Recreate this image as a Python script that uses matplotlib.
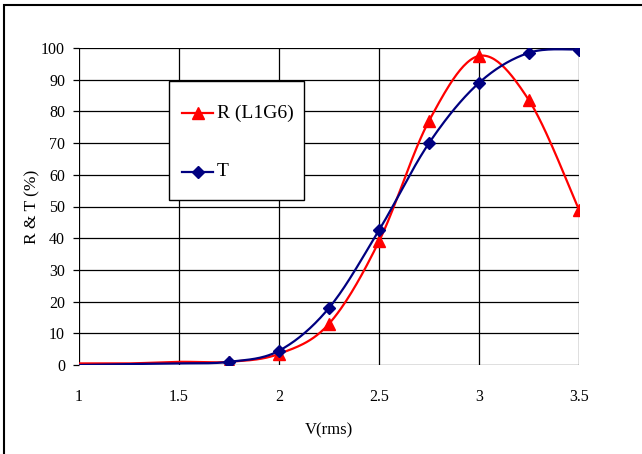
import numpy as np
import matplotlib
matplotlib.use('Agg')
import matplotlib.pyplot as plt
from matplotlib.patches import Rectangle

# data
volts = [1.0, 1.25, 1.5, 1.75, 2.0, 2.25, 2.5, 2.75, 3.0, 3.25, 3.5]
refl = [0.5, 0.5, 1.0, 1.0, 3.5, 13.0, 39.0, 77.0, 97.5, 83.5, 49.0]
trans = [0.0, 0.3, 0.5, 1.0, 4.5, 18.0, 42.5, 70.0, 89.0, 98.5, 99.5]
first_marker = 3  # markers only from 1.75 V on
labels = ['R (L1G6)', 'T']

plt.rcParams['font.family'] = ['Liberation Serif', 'DejaVu Serif']


def smooth(xs, ys, n=30):
    # excel-like smoothed line (catmull-rom bezier through the points)
    xs = np.asarray(xs, float)
    ys = np.asarray(ys, float)
    px = np.concatenate([[xs[0]], xs, [xs[-1]]])
    py = np.concatenate([[ys[0]], ys, [ys[-1]]])
    outx, outy = [], []
    t = np.linspace(0, 1, n)
    for i in range(1, len(px) - 2):
        p0 = np.array([px[i], py[i]])
        p3 = np.array([px[i + 1], py[i + 1]])
        c1 = p0 + (p3 - np.array([px[i - 1], py[i - 1]])) / 6
        c2 = p3 - (np.array([px[i + 2], py[i + 2]]) - p0) / 6
        b = ((1 - t) ** 3)[:, None] * p0 + (3 * (1 - t) ** 2 * t)[:, None] * c1 \
            + (3 * (1 - t) * t ** 2)[:, None] * c2 + (t ** 3)[:, None] * p3
        outx.extend(b[:, 0])
        outy.extend(b[:, 1])
    return outx, outy


fig = plt.figure(figsize=(6.42, 4.54), dpi=100)
fig.patches.append(Rectangle((4 / 642, -0.1), 1.2, 1 - 5 / 454 + 0.1, transform=fig.transFigure,
                             fill=False, edgecolor='black', linewidth=1.5))

ax = fig.add_axes([79 / 642, 1 - 365 / 454, 500 / 642, 317 / 454])

red = '#ff0000'
navy = '#000080'

sx, sy = smooth(volts, refl)
ax.plot(sx, sy, color=red, lw=1.6, zorder=3)
ax.plot(volts[first_marker:], refl[first_marker:], ls='none', marker='^', ms=8,
        color=red, zorder=4)

sx, sy = smooth(volts, trans)
ax.plot(sx, sy, color=navy, lw=1.6, zorder=3)
ax.plot(volts[first_marker:], trans[first_marker:], ls='none', marker='D', ms=6,
        color=navy, zorder=5)

ax.set_xlim(1, 3.5)
ax.set_ylim(0, 100)
ax.set_xticks(np.arange(1, 3.51, 0.5))
ax.set_xticklabels(['1', '1.5', '2', '2.5', '3', '3.5'])
ax.set_yticks(np.arange(0, 101, 10))
ax.grid(True, color='black', lw=0.9)
for s in ax.spines.values():
    s.set_visible(False)
ax.tick_params(axis='x', length=0, pad=17, labelsize=11.5)
ax.tick_params(axis='y', length=4, width=0.9, pad=6, labelsize=11.5)
ax.set_xlabel('V(rms)', fontsize=12, labelpad=13)
ax.set_ylabel('R & T (%)', fontsize=12.5, va='center')
ax.yaxis.set_label_coords(-0.094, 0.5)

# legend box drawn by hand to get Excel's loose spacing
ax.add_patch(Rectangle((0.18, 0.5205), 0.27, 0.3755, transform=ax.transAxes,
                       facecolor='white', edgecolor='black', lw=1.0, zorder=6))
rows = [(0.795, red, '^', 8), (0.609, navy, 'D', 6)]
for (yy, col, mk, ms), lab in zip(rows, labels):
    ax.plot([0.206, 0.268], [yy, yy], color=col, lw=1.6, transform=ax.transAxes,
            zorder=7, clip_on=False)
    ax.plot([0.237], [yy], color=col, marker=mk, ms=ms, transform=ax.transAxes,
            zorder=8, clip_on=False)
    ax.text(0.276, yy, lab, transform=ax.transAxes, fontsize=14, va='center',
            ha='left', zorder=8)

fig.savefig('out.png', dpi=100)
